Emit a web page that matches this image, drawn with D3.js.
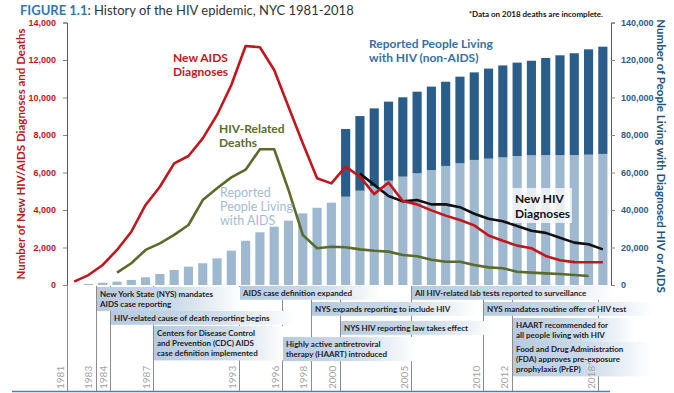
<!DOCTYPE html>
<html>
<head>
<meta charset="utf-8">
<script src="https://d3js.org/d3.v7.min.js"></script>
<style>
  body { margin: 0; background: #fff; }
  svg { display: block; font-family: Lato, "Open Sans", sans-serif; }
</style>
</head>
<body>
<svg id="chart" width="674" height="393"></svg>
<script>
// data
var years = [1981,1982,1983,1984,1985,1986,1987,1988,1989,1990,1991,1992,1993,1994,1995,1996,1997,1998,1999,
             2000,2001,2002,2003,2004,2005,2006,2007,2008,2009,2010,2011,2012,2013,2014,2015,2016,2017,2018];

// people living with AIDS (right axis)
var livingAIDS = [100,500,1200,1800,2700,4100,5900,8000,9800,11600,14200,18300,23600,28100,31100,34300,38200,41200,43900,
                  47100,50300,52800,55600,57800,59600,61300,63500,64900,66700,67400,68100,68800,69200,69300,69300,69300,69500,69900];
// people living with HIV (non-AIDS), stacked on top (right axis)
var livingHIV = [null,null,null,null,null,null,null,null,null,null,null,null,null,null,null,null,null,null,null,
                 36100,39800,41400,42200,42300,43500,44500,44900,46200,46700,48000,49000,49800,50400,51800,53200,54300,56200,57200];

// left axis series
var newAIDS = [180,530,1070,1870,2840,4270,5240,6490,6880,7820,9070,10670,12750,12680,11470,9510,7560,5690,5420,
               6310,5780,4850,5460,4480,4300,3980,3700,3470,3180,2640,2360,2100,1960,1550,1320,1220,1210,1210];
var hivDeaths = [null,null,null,660,1160,1870,2220,2670,3200,4530,5160,5740,6150,7240,7240,5070,2670,1960,2040,
                 2010,1900,1830,1780,1600,1530,1350,1240,1240,1070,940,890,710,660,620,590,530,480,null];
var newHIV = [null,null,null,null,null,null,null,null,null,null,null,null,null,null,null,null,null,null,null,
              null,5940,5340,4750,4460,4530,4300,4300,4150,3800,3530,3400,3150,2890,2780,2520,2260,2170,1900];

var leftTicks = [0,2000,4000,6000,8000,10000,12000,14000];
var rightTicks = [0,20000,40000,60000,80000,100000,120000,140000];

var timelineYears = [1981,1983,1984,1987,1993,1996,1998,2000,2005,2010,2012,2018];
var timelineLabels = ["1981","1983","1984","1987","1993","1996","1998","2000","2005","2010","2012","2018*"];

var events = [
  {year: 1983, text: ["New York State (NYS) mandates", "AIDS case reporting"]},
  {year: 1984, text: ["HIV-related cause of death reporting begins"]},
  {year: 1987, text: ["Centers for Disease Control", "and Prevention (CDC) AIDS", "case definition implemented"]},
  {year: 1993, text: ["AIDS case definition expanded"]},
  {year: 1996, text: ["Highly active antiretroviral", "therapy (HAART) introduced"]},
  {year: 1998, text: ["NYS expands reporting to include HIV"]},
  {year: 2000, text: ["NYS HIV reporting law takes effect"]},
  {year: 2005, text: ["All HIV-related lab tests reported to surveillance"]},
  {year: 2010, text: ["NYS mandates routine offer of HIV test"]},
  {year: 2012, text: ["HAART recommended for", "all people living with HIV"]},
  {year: 2012, text: ["Food and Drug Administration", "(FDA) approves pre-exposure", "prophylaxis (PrEP)"]}
];
// top edge of each event box (layout only)
var eventTop = [287, 311, 326, 286, 337, 302, 321, 286, 302, 318, 342];

var C = {
  red: "#c2161d", olive: "#5b6b2b", black: "#111",
  light: "#9db8cf", dark: "#2b5d8b",
  rightText: "#2e5b88", title: "#2f78b7"
};

var svg = d3.select("#chart");

var x = d3.scaleBand().domain(years).range([67, 610]).paddingInner(0.36).paddingOuter(0.18);
var yL = d3.scaleLinear().domain([0, 14000]).range([285, 22.5]);
var yR = d3.scaleLinear().domain([0, 140000]).range([285, 22.5]);
var xt = d3.scaleLinear().domain([1981, 2018]).range([67, 598]);
var cx = function (yr) { return x(yr) + x.bandwidth() / 2; };

// stacked bars
var table = years.map(function (yr, i) {
  return {year: yr, aids: livingAIDS[i], hiv: livingHIV[i] || 0};
});
var stack = d3.stack().keys(["aids", "hiv"])(table);
var barColors = {aids: C.light, hiv: C.dark};

svg.append("g").selectAll("g")
  .data(stack).join("g")
  .attr("fill", function (s) { return barColors[s.key]; })
  .selectAll("rect")
  .data(function (s) { return s.filter(function (d) { return d[1] > d[0]; }); })
  .join("rect")
  .attr("x", function (d) { return x(d.data.year); })
  .attr("width", x.bandwidth())
  .attr("y", function (d) { return yR(d[1]); })
  .attr("height", function (d) { return yR(d[0]) - yR(d[1]); });

// axes
var leftAxis = svg.append("g")
  .attr("transform", "translate(67,0)")
  .call(d3.axisLeft(yL).tickValues(leftTicks).tickSize(4).tickPadding(7).tickFormat(d3.format(",")));
leftAxis.selectAll("text").attr("fill", C.red).style("font-size", "9px").style("font-weight", "bold");

var rightAxis = svg.append("g")
  .attr("transform", "translate(611,0)")
  .call(d3.axisRight(yR).tickValues(rightTicks).tickSize(4).tickPadding(6).tickFormat(d3.format(",")));
rightAxis.selectAll("text").attr("fill", C.rightText).style("font-size", "9px").style("font-weight", "bold");

[leftAxis, rightAxis].forEach(function (a) {
  a.select(".domain").attr("stroke", "#555");
  a.selectAll(".tick line").attr("stroke", "#888");
});

// lines
function drawLine(values, color) {
  var pts = years.map(function (yr, i) { return {year: yr, v: values[i]}; });
  var line = d3.line()
    .defined(function (d) { return d.v != null; })
    .x(function (d) { return cx(d.year); })
    .y(function (d) { return yL(d.v); });
  svg.append("path").datum(pts)
    .attr("d", line)
    .attr("fill", "none")
    .attr("stroke", color)
    .attr("stroke-width", 2.6)
    .attr("stroke-linejoin", "round");
}
drawLine(hivDeaths, C.olive);
drawLine(newHIV, C.black);
drawLine(newAIDS, C.red);

// series labels
function label(lines, xPos, y0, dy, color, size, weight) {
  var t = svg.append("text")
    .attr("fill", color)
    .style("font-size", size + "px")
    .style("font-weight", weight);
  lines.forEach(function (s, i) {
    t.append("tspan").attr("x", xPos).attr("y", y0 + i * dy).text(s);
  });
  return t;
}
label(["New AIDS", "Diagnoses"], 173, 62, 14, C.red, 12, "bold");
label(["HIV-Related", "Deaths"], 219, 133, 14, C.olive, 12, "bold");
label(["Reported", "People Living", "with AIDS"], 220, 197, 14, "#a2bcd5", 12.5, "normal");
label(["Reported People Living", "with HIV (non-AIDS)"], 369, 48, 14, "#3470a6", 12, "bold");

svg.append("rect").attr("x", 510).attr("y", 188).attr("width", 62).attr("height", 35)
  .attr("fill", "#fff").attr("fill-opacity", 0.75);
label(["New HIV", "Diagnoses"], 515, 203, 15, C.black, 12, "bold");

// axis titles
svg.append("text")
  .attr("transform", "translate(25,154) rotate(-90)")
  .attr("text-anchor", "middle")
  .attr("fill", C.red)
  .style("font-size", "11.5px").style("font-weight", "bold")
  .text("Number of New HIV/AIDS Diagnoses and Deaths");

svg.append("text")
  .attr("transform", "translate(657,156) rotate(90)")
  .attr("text-anchor", "middle")
  .attr("fill", "#24527f")
  .style("font-size", "11.5px").style("font-weight", "bold")
  .text("Number of People Living with Diagnosed HIV or AIDS");

// title + note
var title = svg.append("text").attr("x", 20).attr("y", 15).style("font-size", "13px");
title.append("tspan").attr("fill", C.title).style("font-weight", "bold").text("FIGURE 1.1");
title.append("tspan").attr("fill", "#333").text(": History of the HIV epidemic, NYC 1981-2018");

svg.append("text").attr("x", 603).attr("y", 17).attr("text-anchor", "end")
  .attr("fill", "#111").style("font-size", "8px").style("font-weight", "bold")
  .text("*Data on 2018 deaths are incomplete.");

// timeline
var tl = svg.append("g");
tl.selectAll("line.yr")
  .data(timelineYears).join("line")
  .attr("class", "yr")
  .attr("x1", function (d) { return Math.round(xt(d)) + 0.5; })
  .attr("x2", function (d) { return Math.round(xt(d)) + 0.5; })
  .attr("y1", 286).attr("y2", 391)
  .attr("stroke", "#8c8c8c").attr("stroke-width", 1);

var defs = svg.append("defs");
var grad = defs.append("linearGradient").attr("id", "boxGrad");
grad.append("stop").attr("offset", "0%").attr("stop-color", "#b6cadf");
grad.append("stop").attr("offset", "55%").attr("stop-color", "#cddbea");
grad.append("stop").attr("offset", "100%").attr("stop-color", "#ffffff");

events.forEach(function (ev, i) {
  var bx = Math.round(xt(ev.year)) + 1;
  var top = eventTop[i];
  var g = tl.append("g");
  var box = g.append("rect").attr("x", bx).attr("y", top)
    .attr("fill", "url(#boxGrad)");
  var t = g.append("text")
    .attr("fill", "#1c1c1c")
    .style("font-size", "8px").style("font-weight", "bold");
  ev.text.forEach(function (s, j) {
    t.append("tspan").attr("x", bx + 3).attr("y", top + 9.5 + j * 10.3).text(s);
  });
  var w = t.node().getBBox().width;
  box.attr("width", w + 30).attr("height", ev.text.length * 10.3 + 3.5);
});

// year labels on top of the boxes
tl.selectAll("text.yr")
  .data(timelineYears).join("text")
  .attr("class", "yr")
  .attr("transform", function (d) { return "translate(" + (xt(d) - 7) + ",389) rotate(-90)"; })
  .attr("dy", "0.35em")
  .attr("fill", "#a3a3a3")
  .style("font-size", "10px")
  .text(function (d, i) { return timelineLabels[i]; });

svg.append("line")
  .attr("x1", 12).attr("x2", 610).attr("y1", 391.5).attr("y2", 391.5)
  .attr("stroke", "#4f7fae").attr("stroke-width", 1.5);
</script>
</body>
</html>
